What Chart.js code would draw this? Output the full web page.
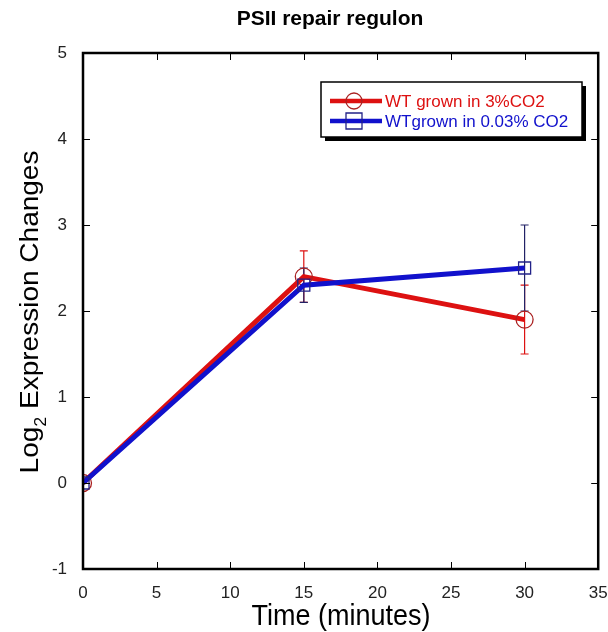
<!DOCTYPE html>
<html>
<head>
<meta charset="utf-8">
<script src="https://cdn.jsdelivr.net/npm/chart.js@4.4.0/dist/chart.umd.min.js"></script>
<style>
  html, body { margin: 0; padding: 0; background: #fff; }
  #wrap { width: 608px; height: 632px; }
</style>
</head>
<body>
<div id="wrap"><canvas id="chart" width="608" height="632"></canvas></div>
<script>
// data
const times = [0, 15, 30];
const highCO2 = [0, 2.4, 1.9];
const highCO2Err = [0, 0.3, 0.4];
const lowCO2 = [0, 2.3, 2.5];
const lowCO2Err = [0, 0.2, 0.5];
const xTicks = [0, 5, 10, 15, 20, 25, 30, 35];
const yTicks = [-1, 0, 1, 2, 3, 4, 5];

const RED = '#dd1111';
const BLUE = '#1111cc';
const FONT = 'Arial, "Liberation Sans", sans-serif';

function toPoints(ys) {
  return times.map((t, i) => ({ x: t, y: ys[i] }));
}

// error bars, frame, inner ticks, titles and legend
const decorations = {
  id: 'decorations',
  beforeDatasetsDraw(chart) {
    const { ctx, scales: { x, y } } = chart;
    const sets = [[highCO2, highCO2Err, RED], [lowCO2, lowCO2Err, '#222266']];
    ctx.save();
    ctx.lineWidth = 1.2;
    sets.forEach(([vals, errs, col]) => {
      ctx.strokeStyle = col;
      times.forEach((t, i) => {
        if (!errs[i]) return;
        const px = x.getPixelForValue(t);
        const top = y.getPixelForValue(vals[i] + errs[i]);
        const bot = y.getPixelForValue(vals[i] - errs[i]);
        ctx.beginPath();
        ctx.moveTo(px, top); ctx.lineTo(px, bot);
        ctx.moveTo(px - 4, top); ctx.lineTo(px + 4, top);
        ctx.moveTo(px - 4, bot); ctx.lineTo(px + 4, bot);
        ctx.stroke();
      });
    });
    ctx.restore();
  },
  afterDraw(chart) {
    const { ctx, chartArea: a, scales: { x, y } } = chart;
    ctx.save();
    // frame
    ctx.strokeStyle = '#000';
    ctx.lineWidth = 2.5;
    ctx.strokeRect(a.left, a.top, a.right - a.left, a.bottom - a.top);
    // inward ticks
    ctx.lineWidth = 1;
    ctx.beginPath();
    xTicks.forEach(v => {
      const px = Math.round(x.getPixelForValue(v)) + 0.5;
      ctx.moveTo(px, a.bottom); ctx.lineTo(px, a.bottom - 7);
      ctx.moveTo(px, a.top); ctx.lineTo(px, a.top + 7);
    });
    yTicks.forEach(v => {
      const py = Math.round(y.getPixelForValue(v)) + 0.5;
      ctx.moveTo(a.left, py); ctx.lineTo(a.left + 7, py);
      ctx.moveTo(a.right, py); ctx.lineTo(a.right - 7, py);
    });
    ctx.stroke();

    // title
    ctx.fillStyle = '#000';
    ctx.textAlign = 'center';
    ctx.textBaseline = 'middle';
    ctx.font = 'bold 21px ' + FONT;
    ctx.fillText('PSII repair regulon', 330, 19);

    // x title (source image is a little stretched vertically)
    ctx.save();
    ctx.translate(341, 625);
    ctx.scale(1, 1.12);
    ctx.textBaseline = 'alphabetic';
    ctx.font = '27px ' + FONT;
    ctx.fillText('Time (minutes)', 0, 0);
    ctx.restore();

    // y title with subscript
    ctx.save();
    ctx.translate(31, 312);
    ctx.rotate(-Math.PI / 2);
    ctx.scale(1.12, 1);
    ctx.textAlign = 'left';
    const mainFont = '25px ' + FONT;
    const subFont = '16px ' + FONT;
    ctx.font = mainFont;
    const w1 = ctx.measureText('Log').width;
    const w3 = ctx.measureText(' Expression Changes').width;
    ctx.font = subFont;
    const w2 = ctx.measureText('2').width;
    let sx = -(w1 + w2 + w3) / 2;
    ctx.font = mainFont;
    ctx.fillText('Log', sx, 0);
    ctx.font = subFont;
    ctx.fillText('2', sx + w1, 11);
    ctx.font = mainFont;
    ctx.fillText(' Expression Changes', sx + w1 + w2, 0);
    ctx.restore();

    // legend box with shadow
    const lx = 321, ly = 82, lw = 261, lh = 55;
    ctx.fillStyle = '#000';
    ctx.fillRect(lx + 4, ly + 4, lw, lh);
    ctx.fillStyle = '#fff';
    ctx.fillRect(lx, ly, lw, lh);
    ctx.strokeStyle = '#000';
    ctx.lineWidth = 1.5;
    ctx.strokeRect(lx, ly, lw, lh);

    const rows = [
      { yy: 101, col: RED, mark: '#aa2222', text: 'WT grown in 3%CO2', shape: 'circle' },
      { yy: 121, col: BLUE, mark: '#222288', text: 'WTgrown in 0.03% CO2', shape: 'rect' }
    ];
    rows.forEach(r => {
      ctx.strokeStyle = r.col;
      ctx.lineWidth = 4.5;
      ctx.beginPath();
      ctx.moveTo(330, r.yy); ctx.lineTo(382, r.yy);
      ctx.stroke();
      ctx.strokeStyle = r.mark;
      ctx.lineWidth = 1.3;
      ctx.beginPath();
      if (r.shape === 'circle') ctx.arc(354, r.yy, 8, 0, Math.PI * 2);
      else ctx.rect(346, r.yy - 8, 16, 16);
      ctx.stroke();
      ctx.fillStyle = r.col;
      ctx.font = '17px ' + FONT;
      ctx.textAlign = 'left';
      ctx.fillText(r.text, 385, r.yy + 1);
    });
    ctx.restore();
  }
};

new Chart(document.getElementById('chart'), {
  type: 'scatter',
  data: {
    datasets: [
      {
        label: 'WT grown in 3%CO2',
        data: toPoints(highCO2),
        order: 1,
        showLine: true,
        borderColor: RED,
        borderWidth: 5,
        pointStyle: 'circle',
        pointRadius: 8.5,
        pointBorderWidth: 1.3,
        pointBorderColor: '#aa2222',
        pointBackgroundColor: 'rgba(0,0,0,0)'
      },
      {
        label: 'WTgrown in 0.03% CO2',
        data: toPoints(lowCO2),
        order: 0,
        showLine: true,
        borderColor: BLUE,
        borderWidth: 5,
        pointStyle: 'rect',
        pointRadius: 8.5,
        pointBorderWidth: 1.3,
        pointBorderColor: '#222288',
        pointBackgroundColor: 'rgba(0,0,0,0)'
      }
    ]
  },
  options: {
    responsive: false,
    animation: false,
    layout: { padding: { left: 0, right: 8, top: 53, bottom: 0 } },
    plugins: { legend: { display: false }, tooltip: { enabled: false }, title: { display: false } },
    scales: {
      x: {
        type: 'linear',
        min: 0, max: 35,
        afterBuildTicks: s => { s.ticks = xTicks.map(v => ({ value: v })); },
        afterFit: s => { s.height = 63; s.paddingLeft = 0; s.paddingRight = 0; },
        grid: { display: false },
        border: { display: false },
        ticks: { color: '#222', font: { family: FONT, size: 17 }, padding: 6, maxRotation: 0 }
      },
      y: {
        type: 'linear',
        min: -1, max: 5,
        afterBuildTicks: s => { s.ticks = yTicks.map(v => ({ value: v })); },
        afterFit: s => { s.width = 83; s.paddingTop = 0; s.paddingBottom = 0; },
        grid: { display: false },
        border: { display: false },
        ticks: { color: '#222', font: { family: FONT, size: 17 }, padding: 8 }
      }
    }
  },
  plugins: [decorations]
});
</script>
</body>
</html>
